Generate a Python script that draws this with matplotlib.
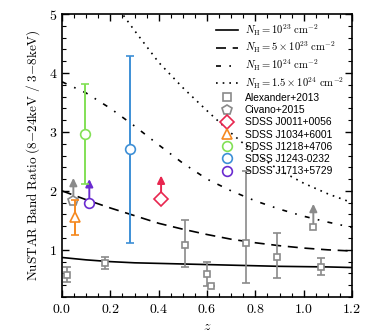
import matplotlib
matplotlib.use("Agg")
import matplotlib.pyplot as plt
from matplotlib.lines import Line2D
from matplotlib.ticker import MultipleLocator, FormatStrFormatter

plt.rcParams['mathtext.fontset'] = 'cm'
plt.rcParams['font.family'] = 'serif'
plt.rcParams['font.serif'] = ['DejaVu Serif']

# model curves (band ratio vs z for different NH)
z_mod = [0.0, 0.1, 0.2, 0.3, 0.4, 0.5, 0.6, 0.7, 0.8, 0.9, 1.0, 1.1, 1.2]
nh23 = [0.87, 0.83, 0.80, 0.78, 0.77, 0.76, 0.75, 0.74, 0.73, 0.72, 0.715, 0.71, 0.70]
nh5e23 = [2.00, 1.85, 1.71, 1.58, 1.45, 1.35, 1.26, 1.18, 1.12, 1.07, 1.03, 1.00, 0.98]
nh24 = [3.85, 3.66, 3.40, 3.10, 2.78, 2.47, 2.20, 2.00, 1.83, 1.69, 1.57, 1.47, 1.38]
z_dot = [0.2, 0.25, 0.3, 0.4, 0.5, 0.6, 0.7, 0.8, 0.9, 1.0, 1.1, 1.2]
nh15e24 = [5.3, 5.0, 4.72, 4.18, 3.75, 3.36, 2.98, 2.63, 2.35, 2.13, 1.95, 1.80]
model_labels = [r'$N_{\rm H}=10^{23}\ {\rm cm^{-2}}$',
                r'$N_{\rm H}=5\times10^{23}\ {\rm cm^{-2}}$',
                r'$N_{\rm H}=10^{24}\ {\rm cm^{-2}}$',
                r'$N_{\rm H}=1.5\times10^{24}\ {\rm cm^{-2}}$']

# Alexander+2013
alex_z = [0.02, 0.178, 0.509, 0.598, 0.615, 0.761, 0.888, 1.070]
alex_r = [0.57, 0.78, 1.09, 0.59, 0.38, 1.11, 0.87, 0.71]
alex_lo = [0.12, 0.11, 0.38, 0.20, 0.0, 0.68, 0.35, 0.13]
alex_hi = [0.14, 0.10, 0.41, 0.20, 0.0, 1.23, 0.41, 0.15]
alex_lim_z = [1.04]
alex_lim_r = [1.38]

# Civano+2015 (lower limit)
civ_z = [0.047]
civ_r = [1.82]

# SDSS sources
j0011_z, j0011_r = 0.41, 1.86          # lower limit
j1034_z, j1034_r, j1034_e = 0.052, 1.55, [[0.30], [0.29]]
j1218_z, j1218_r, j1218_e = 0.095, 2.97, [[0.86], [0.84]]
j1243_z, j1243_r, j1243_e = 0.281, 2.71, [[1.60], [1.58]]
j1713_z, j1713_r = 0.113, 1.80         # lower limit

gray = '#8a8a8a'
red = '#e8264f'
orange = '#f5891f'
green = '#82e055'
blue = '#3d8fd6'
purple = '#6a2bd0'

fig = plt.figure(figsize=(3.9, 3.32), dpi=100)
ax = fig.add_axes([62/390, 1 - 297/332, 290/390, 283/332])

styles = ['-', (0, (6, 4)), (0, (3, 5, 1, 5)), (0, (1, 3))]
ax.plot(z_mod, nh23, color='k', lw=1.2, ls=styles[0])
ax.plot(z_mod, nh5e23, color='k', lw=1.2, ls=styles[1])
ax.plot(z_mod, nh24, color='k', lw=1.2, ls=styles[2])
ax.plot(z_dot, nh15e24, color='k', lw=1.2, ls=styles[3])

ax.errorbar(alex_z, alex_r, yerr=[alex_lo, alex_hi], fmt='s', ms=5, mfc='white', mec=gray,
            mew=1.2, ecolor=gray, elinewidth=1.2, capsize=3, capthick=1.2, zorder=4)
ax.plot(alex_lim_z, alex_lim_r, 's', ms=5, mfc='white', mec=gray, mew=1.2, zorder=4)
ax.plot(civ_z, civ_r, 'p', ms=7, mfc='white', mec=gray, mew=1.2, zorder=4)

ax.plot(j0011_z, j0011_r, 'D', ms=7, mfc='white', mec=red, mew=1.2, zorder=4)
ax.errorbar(j1034_z, j1034_r, yerr=j1034_e, fmt='^', ms=7, mfc='white', mec=orange, mew=1.2,
            ecolor=orange, elinewidth=1.4, capsize=3, capthick=1.4, zorder=4)
ax.errorbar(j1218_z, j1218_r, yerr=j1218_e, fmt='o', ms=7, mfc='white', mec=green, mew=1.2,
            ecolor=green, elinewidth=1.4, capsize=3, capthick=1.4, zorder=4)
ax.errorbar(j1243_z, j1243_r, yerr=j1243_e, fmt='o', ms=7, mfc='white', mec=blue, mew=1.2,
            ecolor=blue, elinewidth=1.4, capsize=3, capthick=1.4, zorder=4)
ax.plot(j1713_z, j1713_r, 'o', ms=7, mfc='white', mec=purple, mew=1.2, zorder=4)

# lower-limit arrows
for zz, rr, cc in [(alex_lim_z[0], alex_lim_r[0], gray), (civ_z[0], civ_r[0], gray),
                   (j0011_z, j0011_r, red), (j1713_z, j1713_r, purple)]:
    ax.annotate('', xy=(zz, rr + 0.40), xytext=(zz, rr + 0.07),
                arrowprops=dict(arrowstyle='-|>,head_length=0.45,head_width=0.22',
                                color=cc, lw=1.4, shrinkA=0, shrinkB=0), zorder=3)

ax.set_xlim(0, 1.2)
ax.set_ylim(0.2, 5)
ax.xaxis.set_major_locator(MultipleLocator(0.2))
ax.xaxis.set_minor_locator(MultipleLocator(0.05))
ax.yaxis.set_major_locator(MultipleLocator(1))
ax.yaxis.set_minor_locator(MultipleLocator(0.2))
ax.xaxis.set_major_formatter(FormatStrFormatter(r'$%.1f$'))
ax.yaxis.set_major_formatter(FormatStrFormatter(r'$%d$'))
ax.tick_params(which='both', direction='in', top=True, right=True, labelsize=10)
ax.tick_params(which='major', length=5, width=1)
ax.tick_params(which='minor', length=3, width=0.8)
for s in ax.spines.values():
    s.set_linewidth(1.2)

ax.set_xlabel(r'$z$', fontsize=10, labelpad=2)
ax.set_ylabel(r'$\mathrm{NuSTAR\ Band\ Ratio\ (8{-}24keV\ /\ 3{-}8keV)}$', fontsize=9.5, labelpad=5)

# legend with marker-only proxies
handles = [Line2D([], [], color='k', lw=1.2, ls=s) for s in styles]
handles += [
    Line2D([], [], ls='none', marker='s', ms=6, mfc='white', mec=gray, mew=1.2),
    Line2D([], [], ls='none', marker='p', ms=7, mfc='white', mec=gray, mew=1.2),
    Line2D([], [], ls='none', marker='D', ms=7, mfc='white', mec=red, mew=1.2),
    Line2D([], [], ls='none', marker='^', ms=7, mfc='white', mec=orange, mew=1.2),
    Line2D([], [], ls='none', marker='o', ms=7, mfc='white', mec=green, mew=1.2),
    Line2D([], [], ls='none', marker='o', ms=7, mfc='white', mec=blue, mew=1.2),
    Line2D([], [], ls='none', marker='o', ms=7, mfc='white', mec=purple, mew=1.2),
]
labels = model_labels + ['Alexander+2013', 'Civano+2015', 'SDSS J0011+0056', 'SDSS J1034+6001',
                         'SDSS J1218+4706', 'SDSS J1243-0232', 'SDSS J1713+5729']
leg = ax.legend(handles, labels, loc='upper right', frameon=False, fontsize=7.2,
                handlelength=2.2, labelspacing=0.22, borderaxespad=0.4, handletextpad=0.7)
for i, t in enumerate(leg.get_texts()):
    if i < 4:
        t.set_fontsize(7.6)
    else:
        t.set_family('Liberation Sans')
        t.set_fontsize(7.4)

fig.savefig('out.png', dpi=100)
